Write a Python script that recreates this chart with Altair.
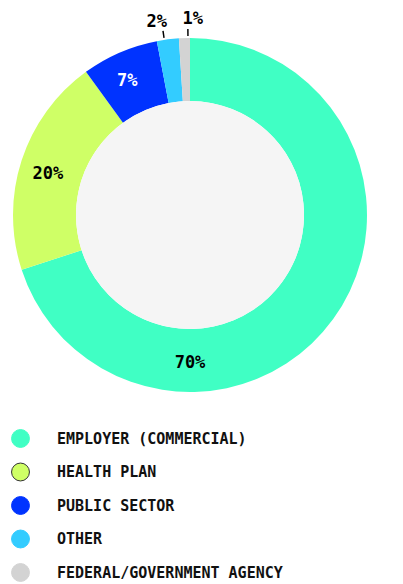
import math
import altair as alt
import pandas as pd

categories = ["EMPLOYER (COMMERCIAL)", "HEALTH PLAN", "PUBLIC SECTOR", "OTHER", "FEDERAL/GOVERNMENT AGENCY"]
shares = [70, 20, 7, 2, 1]
fills = ["#40FFC4", "#CFFF66", "#0033FF", "#33CCFF", "#D3D3D3"]
outlines = ["#40FFC4", "#333333", "#0033FF", "#33CCFF", "#D3D3D3"]

TAU = 2 * math.pi
FONT = "DejaVu Sans Mono"

df = pd.DataFrame({"category": categories, "share": shares, "order": list(range(len(categories)))})

base = (
    alt.Chart(df)
    .transform_window(cum="sum(share)", sort=[alt.SortField("order")], frame=[None, 0])
    .transform_joinaggregate(total="sum(share)")
    .transform_calculate(
        t0=f"(datum.cum - datum.share) / datum.total * {TAU}",
        t1=f"datum.cum / datum.total * {TAU}",
        label="datum.share + '%'",
    )
    .transform_calculate(mid="(datum.t0 + datum.t1) / 2")
)

legend = alt.Legend(
    title=None,
    orient="none",
    legendX=3,
    legendY=421,
    direction="vertical",
    symbolType="circle",
    symbolSize=320,
    symbolStrokeWidth=1,
    symbolOpacity=1,
    labelFont=FONT,
    labelFontSize=15,
    labelFontWeight="bold",
    labelColor="#111111",
    labelOffset=27,
    rowPadding=10.5,
    labelLimit=400,
)

ring = base.mark_arc(outerRadius=177, innerRadius=114, strokeWidth=0).encode(
    theta=alt.Theta("t0:Q", scale=None),
    theta2="t1:Q",
    fill=alt.Fill("category:N", scale=alt.Scale(domain=categories, range=fills), sort=categories, legend=legend),
    stroke=alt.Stroke("category:N", scale=alt.Scale(domain=categories, range=outlines), sort=categories, legend=legend),
)

hole = alt.Chart(pd.DataFrame({"k": [0]})).mark_arc(
    outerRadius=114, innerRadius=0, theta=0, theta2=TAU, color="#F5F5F5"
).encode(opacity=alt.value(1))

inside = (
    base.transform_filter("datum.share >= 5")
    .transform_calculate(lt="datum.share >= 50 ? PI : datum.mid - 0.03")
    .mark_text(radius=148, font=FONT, fontSize=17, fontWeight="bold", align="center", baseline="middle")
    .encode(
        theta=alt.Theta("lt:Q", scale=None),
        text="label:N",
        color=alt.condition("datum.category == 'PUBLIC SECTOR'", alt.value("#FFFFFF"), alt.value("#000000")),
    )
)

small = (
    base.transform_filter("datum.share < 5")
    .transform_window(rk="rank()", sort=[alt.SortField("order")])
    .transform_calculate(s="datum.rk == 1 ? -1 : 1")
    .transform_calculate(
        tl="datum.mid + datum.s * 0.045",
        tk="datum.mid + datum.s * 0.02",
    )
    .transform_calculate(tk0="datum.tk - 0.004", tk1="datum.tk + 0.004")
)

ticks = small.mark_arc(outerRadius=186, innerRadius=179, color="#000000").encode(
    theta=alt.Theta("tk0:Q", scale=None), theta2="tk1:Q"
)

outside = small.mark_text(radius=196, font=FONT, fontSize=17, fontWeight="bold", align="center", baseline="middle", color="#000000").encode(
    theta=alt.Theta("tl:Q", scale=None), text="label:N"
)

chart = (
    alt.layer(ring, hole, inside, ticks, outside)
    .properties(width=364, height=414, padding=0)
    .configure_view(stroke=None)
)

chart.save("out.html", embed_options={"renderer": "svg", "actions": False})
